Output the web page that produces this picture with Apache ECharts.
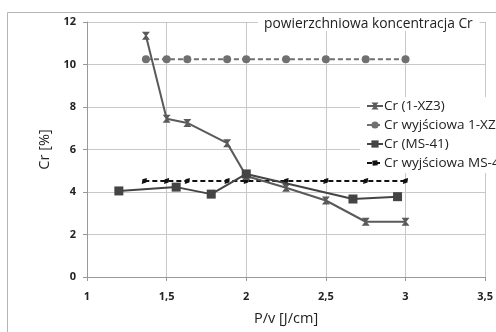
<!DOCTYPE html>
<html>
<head>
<meta charset="utf-8">
<script src="https://cdn.jsdelivr.net/npm/echarts@6/dist/echarts.min.js"></script>
<style>
html,body{margin:0;padding:0;background:#fff;}
#main{width:496px;height:332px;}
</style>
</head>
<body>
<div id="main"></div>
<script>
// values
var seriesNames = ['Cr (1-XZ3)', 'Cr wyjściowa 1-XZ3', 'Cr (MS-41)', 'Cr wyjściowa MS-41'];
var xz3 = [[1.37, 11.35], [1.5, 7.45], [1.63, 7.25], [1.88, 6.3], [2.0, 4.75], [2.25, 4.2], [2.5, 3.6], [2.75, 2.6], [3.0, 2.6]];
var xz3Base = [[1.37, 10.25], [1.5, 10.25], [1.63, 10.25], [1.88, 10.25], [2.0, 10.25], [2.25, 10.25], [2.5, 10.25], [2.75, 10.25], [3.0, 10.25]];
var ms41 = [[1.2, 4.05], [1.56, 4.23], [1.78, 3.9], [2.0, 4.85], [2.67, 3.67], [2.95, 3.78]];
var ms41Base = [[1.36, 4.52], [1.5, 4.52], [1.63, 4.52], [1.88, 4.52], [2.0, 4.52], [2.25, 4.52], [2.5, 4.52], [2.75, 4.52], [3.0, 4.52]];
var xTicks = [1, 1.5, 2, 2.5, 3, 3.5];

var crossPath = 'path://M0,0 L10,0 L6,5 L10,10 L0,10 L4,5 Z';

var chart = echarts.init(document.getElementById('main'));
chart.setOption({
  backgroundColor: '#fff',
  animation: false,
  textStyle: { fontFamily: 'Open Sans' },
  graphic: [{
    type: 'rect', z: 0,
    shape: { x: 7.5, y: 12.5, width: 520, height: 340 },
    style: { fill: 'none', stroke: '#b5b5b5', lineWidth: 1 }
  }],
  title: {
    text: 'powierzchniowa koncentracja Cr',
    left: 258, top: 17,
    padding: [0, 7, 0, 6],
    backgroundColor: '#fff',
    textStyle: { fontSize: 13.8, fontWeight: 'normal', color: '#222', fontFamily: 'Open Sans' }
  },
  legend: {
    orient: 'vertical',
    left: 360, top: 97,
    itemGap: 5,
    itemWidth: 16, itemHeight: 9,
    padding: [2, 6, 3, 6],
    backgroundColor: '#fff',
    textStyle: { fontSize: 13.5, color: '#222', padding: [0, 0, 0, -4] },
    data: seriesNames
  },
  grid: { left: 87, right: 6, top: 22, bottom: 55 },
  xAxis: {
    type: 'value', min: 1, max: 3.5, interval: 0.5,
    name: 'P/v [J/cm]', nameLocation: 'middle', nameGap: 34,
    nameTextStyle: { fontSize: 14.5, color: '#222' },
    axisLine: { lineStyle: { color: '#999' } },
    axisTick: { show: true, length: 4, lineStyle: { color: '#999' } },
    axisLabel: {
      fontSize: 11, fontWeight: 'bold', color: '#222', margin: 14,
      formatter: function (v) { return xTicks.indexOf(v) >= 0 ? String(v).replace('.', ',') : ''; }
    },
    splitLine: { show: true, lineStyle: { color: '#c8c8c8' } }
  },
  yAxis: {
    type: 'value', min: 0, max: 12, interval: 2,
    name: 'Cr [%]', nameLocation: 'middle', nameGap: 31,
    nameTextStyle: { fontSize: 14.5, color: '#222' },
    axisLine: { show: true, lineStyle: { color: '#999' } },
    axisTick: { show: true, length: 4, lineStyle: { color: '#999' } },
    axisLabel: { fontSize: 11, fontWeight: 'bold', color: '#222', margin: 11 },
    splitLine: { show: true, lineStyle: { color: '#c8c8c8' } }
  },
  series: [
    {
      name: seriesNames[0], type: 'line', data: xz3, z: 4,
      symbol: crossPath, symbolSize: [8, 8],
      lineStyle: { color: '#5a5a5a', width: 2 },
      itemStyle: { color: '#5a5a5a' }
    },
    {
      name: seriesNames[1], type: 'line', data: xz3Base, z: 3,
      symbol: 'circle', symbolSize: 8,
      lineStyle: { color: '#707070', width: 2, type: [5, 3] },
      itemStyle: { color: '#707070' }
    },
    {
      name: seriesNames[2], type: 'line', data: ms41, z: 5,
      symbol: 'rect', symbolSize: 9,
      lineStyle: { color: '#444', width: 2 },
      itemStyle: { color: '#444' }
    },
    {
      name: seriesNames[3], type: 'line', data: ms41Base, z: 3,
      symbol: 'diamond', symbolSize: [5, 8], symbolRotate: -40,
      lineStyle: { color: '#111', width: 2, type: [5, 3] },
      itemStyle: { color: '#111' }
    }
  ]
});
</script>
</body>
</html>
